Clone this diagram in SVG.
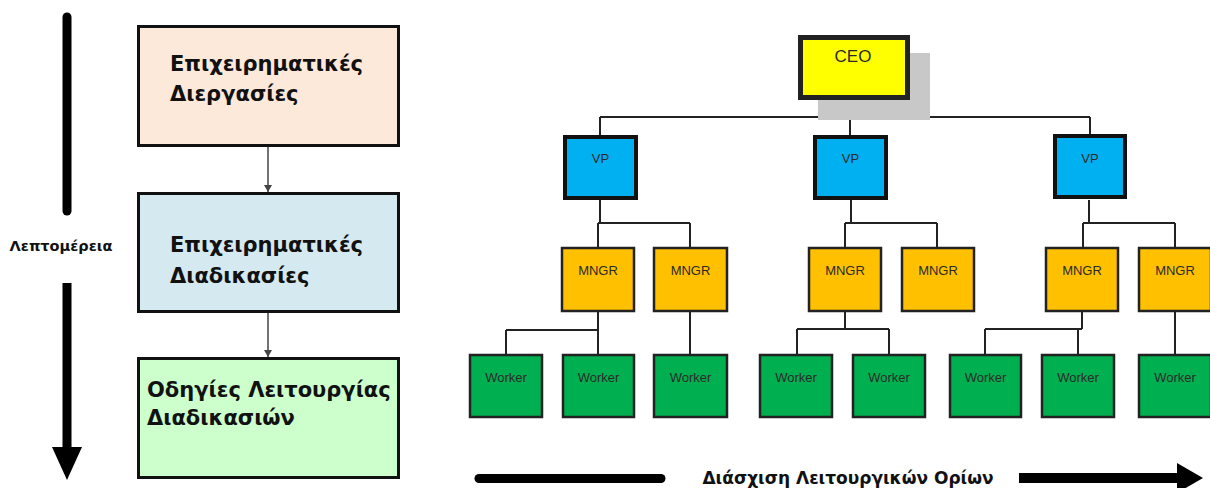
<svg xmlns="http://www.w3.org/2000/svg" width="1210" height="488" viewBox="0 0 1210 488">
  <style>
    .stage { stroke: #111; stroke-width: 3; }
    .stage-text { font-family: "DejaVu Sans", "Liberation Sans", sans-serif; font-weight: bold; font-size: 21px; fill: #111; }
    .axis-text { font-family: "DejaVu Sans", "Liberation Sans", sans-serif; font-weight: bold; fill: #111; text-anchor: middle; }
    .flow { stroke: #444; stroke-width: 1.5; fill: none; }
    .tree { stroke: #222; stroke-width: 2; fill: none; }
    .ceo { fill: #ffff00; stroke: #222; stroke-width: 5; }
    .vp { fill: #00b0f0; stroke: #111; stroke-width: 4; }
    .mngr { fill: #ffc000; stroke: #222; stroke-width: 2.5; }
    .worker { fill: #00b050; stroke: #222; stroke-width: 2.5; }
    .org-text { font-family: "Liberation Sans", Arial, sans-serif; font-size: 13px; fill: #2a2a2a; text-anchor: middle; }
    .org-title { font-size: 17px; }
  </style>
  <defs>
    <marker id="flowHead" markerWidth="8" markerHeight="8" refX="7" refY="4" orient="auto" markerUnits="userSpaceOnUse">
      <path d="M0,0 L7,4 L0,8 Z" fill="#444"/>
    </marker>
  </defs>

  <rect width="1210" height="488" fill="#ffffff"/>

  <!-- Detail axis on the left -->
  <g id="detail-axis">
    <line x1="67" y1="17" x2="67" y2="211" stroke="#000" stroke-width="9" stroke-linecap="round"/>
    <line x1="67" y1="283" x2="67" y2="450" stroke="#000" stroke-width="9"/>
    <polygon points="52,447 82,447 67,480" fill="#000"/>
    <text class="axis-text" x="61" y="251" font-size="14.5">Λεπτομέρεια</text>
  </g>

  <!-- Stage boxes -->
  <g id="stage-processes">
    <rect class="stage" x="138.5" y="26.5" width="260" height="119" fill="#fce9da"/>
    <text class="stage-text" x="170" y="71">Επιχειρηματικές</text>
    <text class="stage-text" x="170" y="101">Διεργασίες</text>
  </g>
  <g id="stage-procedures">
    <rect class="stage" x="138.5" y="193.5" width="260" height="118" fill="#d4e9f0"/>
    <text class="stage-text" x="170" y="252">Επιχειρηματικές</text>
    <text class="stage-text" x="170" y="283">Διαδικασίες</text>
  </g>
  <g id="stage-instructions">
    <rect class="stage" x="138.5" y="358.5" width="260" height="119" fill="#ccffcc"/>
    <text class="stage-text" x="147" y="397">Οδηγίες Λειτουργίας</text>
    <text class="stage-text" x="147" y="425">Διαδικασιών</text>
  </g>

  <!-- Stage connectors and org chart connectors -->
  <g id="connectors">
    <line class="flow" x1="268" y1="147" x2="268" y2="192" marker-end="url(#flowHead)"/>
    <line class="flow" x1="268" y1="313" x2="268" y2="357" marker-end="url(#flowHead)"/>

    <!-- CEO to VPs -->
    <path class="tree" d="M854,100 V117 M600,117 H1090 M600,117 V135 M850,117 V135 M1090,117 V135"/>
    <!-- VPs to managers -->
    <path class="tree" d="M600,200 V223 M598,223 H690 M598,223 V247 M690,223 V247"/>
    <path class="tree" d="M851,200 V223 M845,223 H937 M845,223 V247 M937,223 V247"/>
    <path class="tree" d="M1089,200 V223 M1083,223 H1175 M1083,223 V247 M1175,223 V247"/>
    <!-- Managers to workers -->
    <path class="tree" d="M598,312 V330 M506,330 H598 M506,330 V354 M598,330 V354"/>
    <path class="tree" d="M690,312 V354"/>
    <path class="tree" d="M845,312 V329 M797,329 H889 M797,329 V354 M889,329 V354"/>
    <path class="tree" d="M1082,312 V329 M985,329 H1082 M985,329 V354 M1078,329 V354"/>
    <path class="tree" d="M1175,312 V354"/>
  </g>

  <!-- Org chart nodes -->
  <g id="ceo">
    <rect x="818" y="53" width="112" height="67" fill="#c8c8c8"/>
    <rect class="ceo" x="800.5" y="37.5" width="107" height="60"/>
    <text class="org-text org-title" x="853" y="62">CEO</text>
  </g>
  <g id="vp-1">
    <rect class="vp" x="565" y="137" width="71" height="61"/>
    <text class="org-text" x="600.5" y="163">VP</text>
  </g>
  <g id="vp-2">
    <rect class="vp" x="815" y="137" width="71" height="61"/>
    <text class="org-text" x="850.5" y="163">VP</text>
  </g>
  <g id="vp-3">
    <rect class="vp" x="1055" y="136" width="70" height="61"/>
    <text class="org-text" x="1090" y="163">VP</text>
  </g>

  <g id="mngr-1"><rect class="mngr" x="562" y="248" width="72" height="63"/><text class="org-text" x="598" y="275">MNGR</text></g>
  <g id="mngr-2"><rect class="mngr" x="654" y="248" width="73" height="63"/><text class="org-text" x="690.5" y="275">MNGR</text></g>
  <g id="mngr-3"><rect class="mngr" x="809" y="248" width="72" height="63"/><text class="org-text" x="845" y="275">MNGR</text></g>
  <g id="mngr-4"><rect class="mngr" x="902" y="248" width="72" height="63"/><text class="org-text" x="938" y="275">MNGR</text></g>
  <g id="mngr-5"><rect class="mngr" x="1046" y="248" width="72" height="63"/><text class="org-text" x="1082" y="275">MNGR</text></g>
  <g id="mngr-6"><rect class="mngr" x="1139" y="248" width="72" height="63"/><text class="org-text" x="1175" y="275">MNGR</text></g>

  <g id="worker-1"><rect class="worker" x="470" y="355" width="72" height="62"/><text class="org-text" x="506" y="382">Worker</text></g>
  <g id="worker-2"><rect class="worker" x="563" y="355" width="71" height="62"/><text class="org-text" x="598.5" y="382">Worker</text></g>
  <g id="worker-3"><rect class="worker" x="654" y="355" width="73" height="62"/><text class="org-text" x="690.5" y="382">Worker</text></g>
  <g id="worker-4"><rect class="worker" x="760" y="355" width="72" height="62"/><text class="org-text" x="796" y="382">Worker</text></g>
  <g id="worker-5"><rect class="worker" x="853" y="355" width="72" height="62"/><text class="org-text" x="889" y="382">Worker</text></g>
  <g id="worker-6"><rect class="worker" x="950" y="355" width="71" height="62"/><text class="org-text" x="985.5" y="382">Worker</text></g>
  <g id="worker-7"><rect class="worker" x="1042" y="355" width="72" height="62"/><text class="org-text" x="1078" y="382">Worker</text></g>
  <g id="worker-8"><rect class="worker" x="1139" y="355" width="72" height="62"/><text class="org-text" x="1175" y="382">Worker</text></g>

  <!-- Boundary-crossing axis at the bottom -->
  <g id="boundary-axis">
    <line x1="479" y1="478.5" x2="661" y2="478.5" stroke="#000" stroke-width="9" stroke-linecap="round"/>
    <line x1="1019" y1="478" x2="1180" y2="478" stroke="#000" stroke-width="10"/>
    <polygon points="1177,463 1203,478 1177,493" fill="#000"/>
    <text class="axis-text" x="848" y="484" font-size="17">Διάσχιση Λειτουργικών Ορίων</text>
  </g>
</svg>
